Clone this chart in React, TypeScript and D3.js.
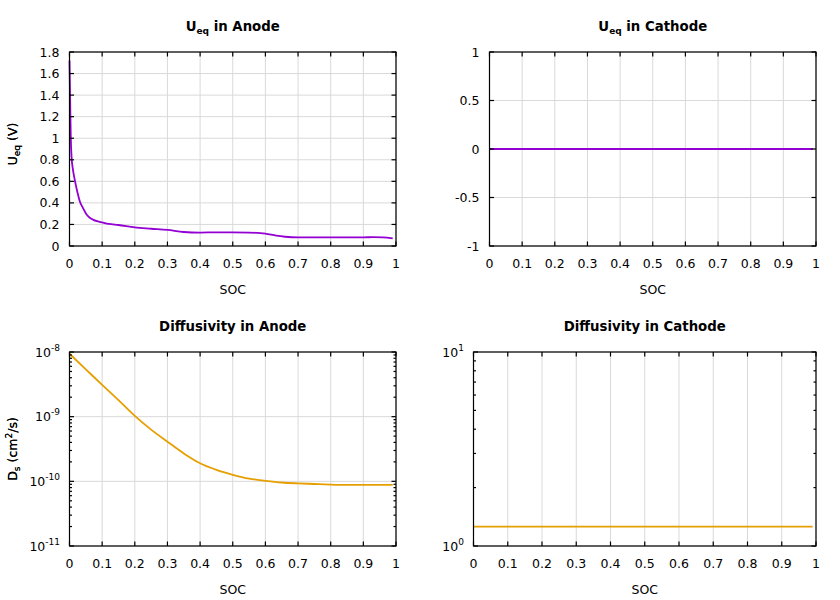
import React from "react";
import * as d3 from "d3";

// ---------- data ----------
const xTicks = [0, 0.1, 0.2, 0.3, 0.4, 0.5, 0.6, 0.7, 0.8, 0.9, 1];
const xTickLabels = ["0", "0.1", "0.2", "0.3", "0.4", "0.5", "0.6", "0.7", "0.8", "0.9", "1"];

const anodeUeqTicks = [0, 0.2, 0.4, 0.6, 0.8, 1, 1.2, 1.4, 1.6, 1.8];
const anodeUeqTickLabels = ["0", "0.2", "0.4", "0.6", "0.8", "1", "1.2", "1.4", "1.6", "1.8"];
const cathodeUeqTicks = [-1, -0.5, 0, 0.5, 1];
const cathodeUeqTickLabels = ["-1", "-0.5", "0", "0.5", "1"];
const anodeDsTicks = [1e-11, 1e-10, 1e-9, 1e-8];
const anodeDsExponents = ["-11", "-10", "-9", "-8"];
const cathodeDsTicks = [1, 10];
const cathodeDsExponents = ["0", "1"];

const anodeUeqSoc = [0, 0.002, 0.004, 0.0067, 0.01, 0.017, 0.025, 0.032, 0.04, 0.053, 0.063, 0.073, 0.085, 0.1, 0.12, 0.15, 0.2, 0.25, 0.3, 0.35, 0.4, 0.45, 0.5, 0.55, 0.6, 0.633, 0.66, 0.7, 0.75, 0.8, 0.85, 0.9, 0.93, 0.96, 0.99];
const anodeUeq = [1.72, 1.35, 1.0, 0.81, 0.72, 0.6, 0.49, 0.41, 0.36, 0.29, 0.26, 0.243, 0.23, 0.219, 0.205, 0.195, 0.172, 0.16, 0.149, 0.13, 0.125, 0.127, 0.127, 0.125, 0.115, 0.096, 0.086, 0.08, 0.08, 0.08, 0.08, 0.08, 0.082, 0.08, 0.071];

const cathodeSoc = [0, 0.25, 0.5, 0.75, 0.99];
const cathodeUeq = [0, 0, 0, 0, 0];

const anodeDsSoc = [0, 0.05, 0.1, 0.15, 0.2, 0.25, 0.3, 0.35, 0.4, 0.45, 0.5, 0.55, 0.6, 0.65, 0.7, 0.75, 0.8, 0.85, 0.9, 0.95, 0.99];
const anodeDs = [9.4e-9, 5.4e-9, 3.1e-9, 1.8e-9, 1.03e-9, 6.3e-10, 4.1e-10, 2.7e-10, 1.9e-10, 1.5e-10, 1.26e-10, 1.1e-10, 1.02e-10, 9.6e-11, 9.3e-11, 9.1e-11, 8.9e-11, 8.8e-11, 8.8e-11, 8.8e-11, 8.8e-11];

const cathodeDs = [1.26, 1.26, 1.26, 1.26, 1.26];

const PURPLE = "#9400d3";
const ORANGE = "#e69f00";
const FONT = "DejaVu Sans";
const GRID = "#d9d9d9";
const FS = 12.5;
const SUB = 9;

type PanelProps = {
  left: number; right: number; top: number; bottom: number;
  title: React.ReactNode; ylabel: React.ReactNode; ylabelY: number;
  log: boolean; domain: [number, number];
  yTicks: number[]; yLabels: string[];
  xs: number[]; ys: number[]; color: string;
};

function Panel(p: PanelProps) {
  const x = d3.scaleLinear().domain([0, 1]).range([p.left, p.right]);
  const y = p.log
    ? d3.scaleLog().domain(p.domain).range([p.bottom, p.top])
    : d3.scaleLinear().domain(p.domain).range([p.bottom, p.top]);
  const line = d3
    .line<number>()
    .x((_, i) => x(p.xs[i]))
    .y((d) => y(d))
    .curve(d3.curveMonotoneX);
  const minor: number[] = [];
  if (p.log) {
    for (let i = 0; i < p.yTicks.length - 1; i++) {
      for (let k = 2; k <= 9; k++) minor.push(p.yTicks[i] * k);
    }
  }
  const T = 4.5;
  const t = 2.5;
  const cx = (p.left + p.right) / 2;
  return (
    <g fontFamily={FONT}>
      {xTicks.map((v, i) => (
        <line key={"gx" + i} x1={x(v)} x2={x(v)} y1={p.top} y2={p.bottom} stroke={GRID} strokeWidth={1} />
      ))}
      {p.yTicks.map((v, i) => (
        <line key={"gy" + i} x1={p.left} x2={p.right} y1={y(v)} y2={y(v)} stroke={GRID} strokeWidth={1} />
      ))}
      <path d={line(p.ys) || ""} fill="none" stroke={p.color} strokeWidth={1.8} />
      {xTicks.map((v, i) => (
        <g key={"tx" + i}>
          <line x1={x(v)} x2={x(v)} y1={p.bottom} y2={p.bottom - T} stroke="#000" strokeWidth={1.2} />
          <line x1={x(v)} x2={x(v)} y1={p.top} y2={p.top + T} stroke="#000" strokeWidth={1.2} />
          <text x={x(v)} y={p.bottom + 21.5} textAnchor="middle" fontSize={FS}>{xTickLabels[i]}</text>
        </g>
      ))}
      {p.yTicks.map((v, i) => (
        <g key={"ty" + i}>
          <line x1={p.left} x2={p.left + T} y1={y(v)} y2={y(v)} stroke="#000" strokeWidth={1.2} />
          <line x1={p.right} x2={p.right - T} y1={y(v)} y2={y(v)} stroke="#000" strokeWidth={1.2} />
          {p.log ? (
            <text x={p.left - 9.5} y={y(v) + 4.5} textAnchor="end" fontSize={FS}>
              10<tspan dy={-6} fontSize={SUB}>{p.yLabels[i]}</tspan>
            </text>
          ) : (
            <text x={p.left - 10} y={y(v) + 4.5} textAnchor="end" fontSize={FS}>{p.yLabels[i]}</text>
          )}
        </g>
      ))}
      {minor.map((v, i) => (
        <g key={"m" + i}>
          <line x1={p.left} x2={p.left + t} y1={y(v)} y2={y(v)} stroke="#000" strokeWidth={1.2} />
          <line x1={p.right} x2={p.right - t} y1={y(v)} y2={y(v)} stroke="#000" strokeWidth={1.2} />
        </g>
      ))}
      <rect x={p.left} y={p.top} width={p.right - p.left} height={p.bottom - p.top} fill="none" stroke="#000" strokeWidth={1.2} />
      <text x={cx} y={p.top - 21} textAnchor="middle" fontSize={13.3} fontWeight="bold">{p.title}</text>
      <text x={cx} y={p.bottom + 47.5} textAnchor="middle" fontSize={FS}>SOC</text>
      <text transform={`translate(17,${p.ylabelY}) rotate(-90)`} textAnchor="middle" fontSize={FS}>{p.ylabel}</text>
    </g>
  );
}

const ueqTitle = (rest: string) => (
  <>
    U<tspan dy={3} fontSize={SUB}>eq</tspan>
    <tspan dy={-3}>{rest}</tspan>
  </>
);
const ueqLabel = (
  <>
    U<tspan dy={3} fontSize={SUB}>eq</tspan>
    <tspan dy={-3}> (V)</tspan>
  </>
);
const dsLabel = (
  <>
    D<tspan dy={3} fontSize={SUB}>s</tspan>
    <tspan dy={-3}> (cm</tspan>
    <tspan dy={-5.5} fontSize={SUB}>2</tspan>
    <tspan dy={5.5}>/s)</tspan>
  </>
);

export default function App() {
  return (
    <svg width={840} height={600} style={{ position: "absolute", left: 0, top: 0, background: "#fff" }}>
      <rect width={840} height={600} fill="#fff" />
      <Panel left={69.5} right={396} top={52} bottom={246} title={ueqTitle(" in Anode")} ylabel={ueqLabel} ylabelY={144}
        log={false} domain={[0, 1.8]} yTicks={anodeUeqTicks} yLabels={anodeUeqTickLabels}
        xs={anodeUeqSoc} ys={anodeUeq} color={PURPLE} />
      <Panel left={489.5} right={816} top={52} bottom={246} title={ueqTitle(" in Cathode")} ylabel={ueqLabel} ylabelY={144}
        log={false} domain={[-1, 1]} yTicks={cathodeUeqTicks} yLabels={cathodeUeqTickLabels}
        xs={cathodeSoc} ys={cathodeUeq} color={PURPLE} />
      <Panel left={69.5} right={396} top={352} bottom={546} title={"Diffusivity in Anode"} ylabel={dsLabel} ylabelY={449}
        log={true} domain={[1e-11, 1e-8]} yTicks={anodeDsTicks} yLabels={anodeDsExponents}
        xs={anodeDsSoc} ys={anodeDs} color={ORANGE} />
      <Panel left={473.5} right={816} top={352} bottom={546} title={"Diffusivity in Cathode"} ylabel={dsLabel} ylabelY={449}
        log={true} domain={[1, 10]} yTicks={cathodeDsTicks} yLabels={cathodeDsExponents}
        xs={cathodeSoc} ys={cathodeDs} color={ORANGE} />
    </svg>
  );
}
